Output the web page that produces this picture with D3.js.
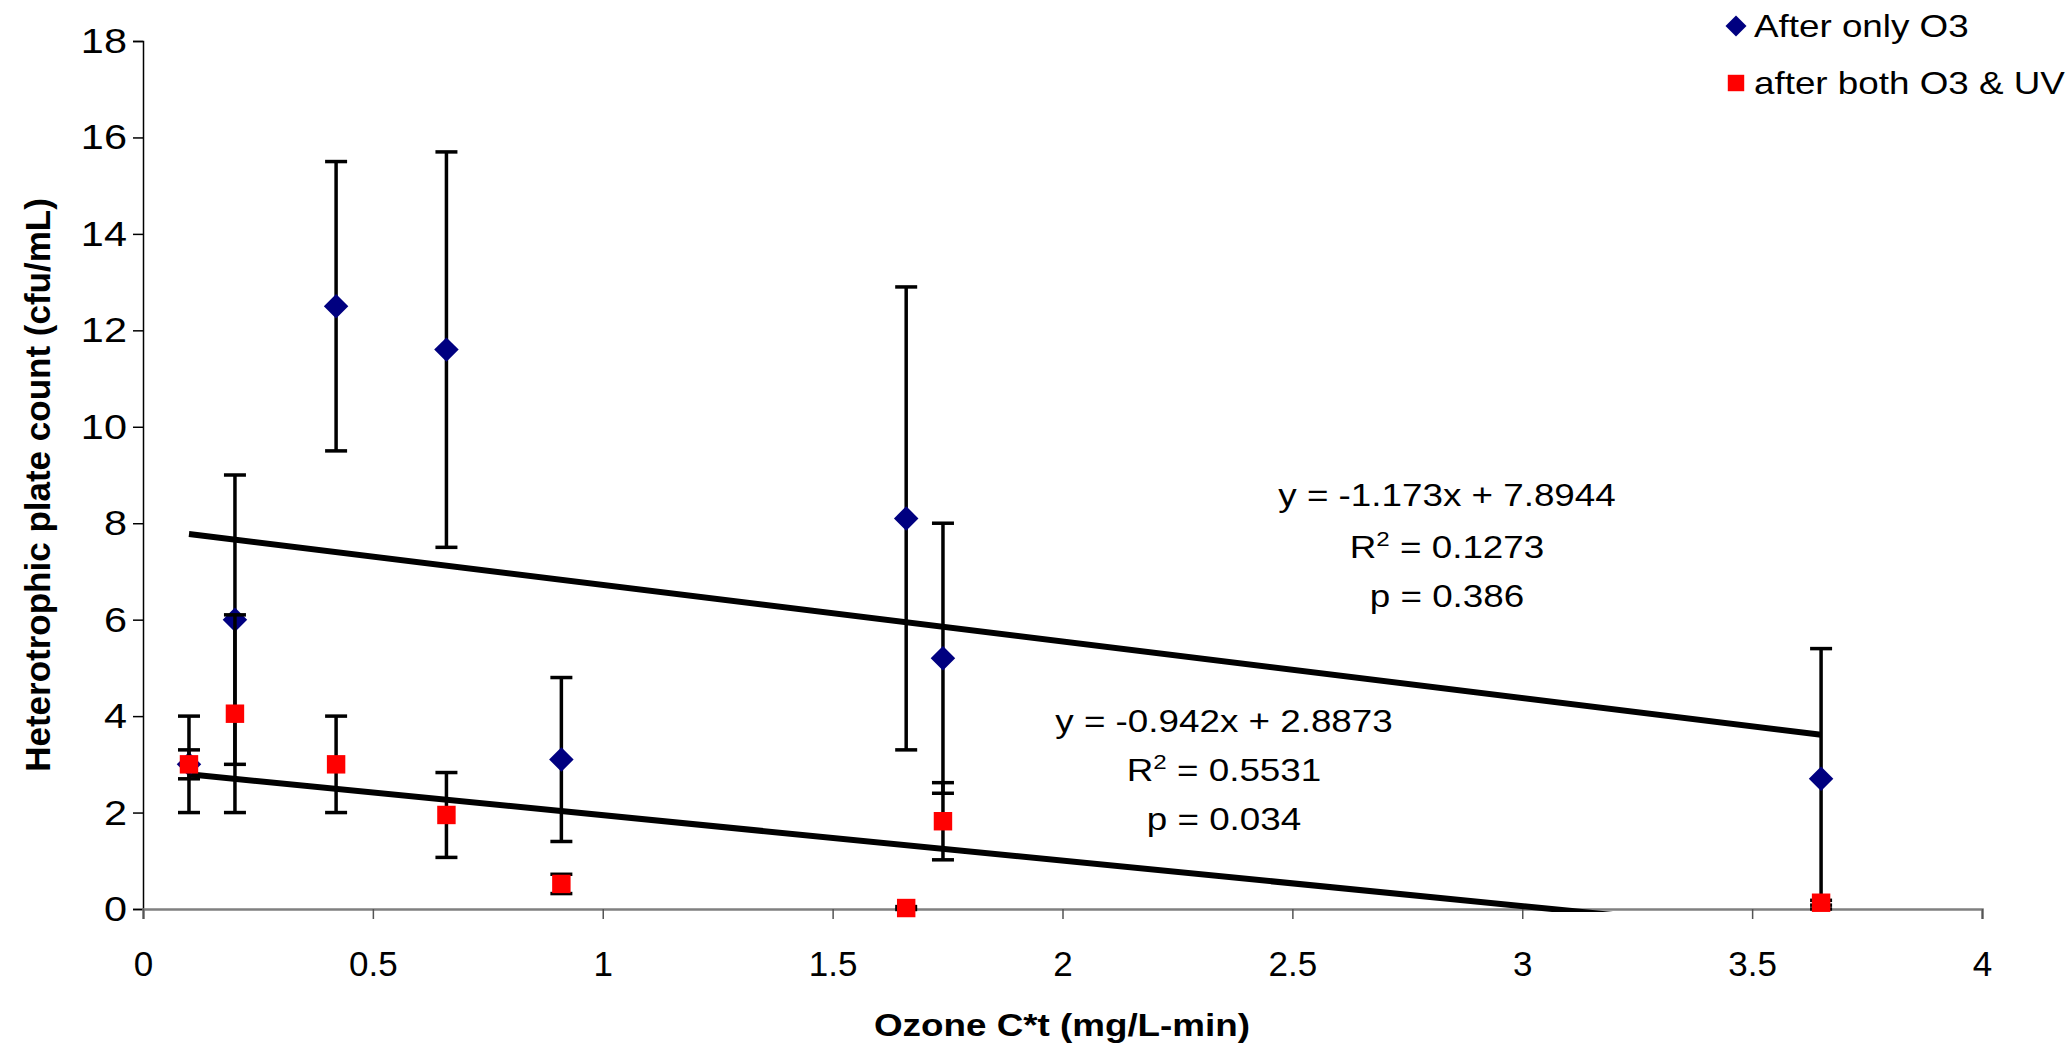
<!DOCTYPE html>
<html>
<head>
<meta charset="utf-8">
<script src="https://cdn.jsdelivr.net/npm/d3@7"></script>
<style>
  html, body { margin: 0; padding: 0; background: #fff; }
  svg { display: block; font-family: "Liberation Sans", Arial, sans-serif; }
</style>
</head>
<body>
<div id="chart"></div>
<script>
/* data */
const ozoneCt = [0.1, 0.2, 0.42, 0.66, 0.91, 1.66, 1.74, 3.65];
const onlyO3 = [3.0, 6.0, 12.5, 11.6, 3.1, 8.1, 5.2, 2.7];
const onlyO3Err = [0.3, 3.0, 3.0, 4.1, 1.7, 4.8, 2.8, 2.7];
const bothO3UV = [3.0, 4.05, 3.0, 1.95, 0.52, 0.02, 1.82, 0.13];
const bothO3UVErr = [1.0, 2.05, 1.0, 0.88, 0.2, 0.03, 0.8, 0.05];
const seriesNames = ["After only O3", "after both O3 & UV"];
const xTicks = [0, 0.5, 1, 1.5, 2, 2.5, 3, 3.5, 4];
const yTicks = [0, 2, 4, 6, 8, 10, 12, 14, 16, 18];
/* trend lines: slope, intercept and the labels next to them */
const trendSlope = [-1.173, -0.942];
const trendIntercept = [7.8944, 2.8873];
const trendEq = ["y = -1.173x + 7.8944", "y = -0.942x + 2.8873"];
const trendR2 = ["0.1273", "0.5531"];
const trendP = ["p = 0.386", "p = 0.034"];

/* svg setup */
const width = 2072;
const height = 1047;
const plot = { left: 143, right: 1982, top: 41, bottom: 909 };
const textStretch = 1.15;

const svg = d3
  .select("#chart")
  .append("svg")
  .attr("width", width)
  .attr("height", height);

const x = d3.scaleLinear().domain([0, 4]).range([plot.left, plot.right]);
const y = d3.scaleLinear().domain([0, 18]).range([plot.bottom, plot.top]);

/*
 * Axes
 */
const yAxisG = svg
  .append("g")
  .attr("transform", `translate(${plot.left},0)`)
  .call(d3.axisLeft(y).tickValues(yTicks).tickSize(10).tickPadding(4).tickFormat(d3.format("")));
yAxisG.attr("font-size", null).attr("font-family", null);
yAxisG.select(".domain").attr("stroke", "#000").attr("stroke-width", 1.5);
yAxisG.selectAll("line").attr("stroke", "#000").attr("stroke-width", 1.5);
yAxisG
  .selectAll("text")
  .style("font-size", "36px")
  .attr("fill", "#000")
  .attr("transform", `scale(${textStretch},1)`);

const xAxisG = svg
  .append("g")
  .attr("transform", `translate(0,${plot.bottom})`)
  .call(d3.axisBottom(x).tickValues(xTicks).tickSize(10).tickPadding(32).tickFormat(d3.format("")));
xAxisG.attr("font-size", null).attr("font-family", null);
xAxisG.select(".domain").attr("stroke", "#808080").attr("stroke-width", 2.5);
xAxisG.selectAll("line").attr("stroke", "#555").attr("stroke-width", 1.5);
xAxisG
  .selectAll("text")
  .style("font-size", "35px")
  .attr("fill", "#000");

/* axis titles */
svg
  .append("text")
  .attr("transform", `translate(38,485) rotate(-90)`)
  .attr("text-anchor", "middle")
  .attr("dy", "0.35em")
  .attr("font-size", 35)
  .attr("font-weight", "bold")
  .text("Heterotrophic plate count (cfu/mL)");

svg
  .append("text")
  .attr("transform", `translate(1062,1036) scale(${textStretch},1)`)
  .attr("text-anchor", "middle")
  .attr("font-size", 32)
  .attr("font-weight", "bold")
  .text("Ozone C*t (mg/L-min)");

/*
 * Trend lines (clipped at the plot bottom like excel does)
 */
svg
  .append("clipPath")
  .attr("id", "plot-clip")
  .append("rect")
  .attr("x", plot.left)
  .attr("y", plot.top)
  .attr("width", plot.right - plot.left)
  .attr("height", plot.bottom - plot.top + 3);

const xMin = d3.min(ozoneCt);
const xMax = d3.max(ozoneCt);
trendSlope.forEach((m, i) => {
  svg
    .append("line")
    .attr("x1", x(xMin))
    .attr("y1", y(m * xMin + trendIntercept[i]))
    .attr("x2", x(xMax))
    .attr("y2", y(m * xMax + trendIntercept[i]))
    .attr("stroke", "#000")
    .attr("stroke-width", 6)
    .attr("clip-path", "url(#plot-clip)");
});

/*
 * Error bars + markers, one group per series
 */
const series = [
  { values: onlyO3, errs: onlyO3Err, color: "#000080", shape: "diamond" },
  { values: bothO3UV, errs: bothO3UVErr, color: "#ff0000", shape: "square" },
];
const capHalf = 11;

series.forEach((s) => {
  const g = svg.append("g");
  const pts = ozoneCt.map((cx, i) => ({ cx, v: s.values[i], e: s.errs[i] }));

  g.selectAll("line.bar")
    .data(pts)
    .enter()
    .append("line")
    .attr("x1", (d) => x(d.cx))
    .attr("x2", (d) => x(d.cx))
    .attr("y1", (d) => y(d.v + d.e))
    .attr("y2", (d) => y(d.v - d.e))
    .attr("stroke", "#000")
    .attr("stroke-width", 3.5);

  // caps top and bottom
  ["top", "bottom"].forEach((side) => {
    g.selectAll(`line.cap-${side}`)
      .data(pts)
      .enter()
      .append("line")
      .attr("x1", (d) => x(d.cx) - capHalf)
      .attr("x2", (d) => x(d.cx) + capHalf)
      .attr("y1", (d) => y(side === "top" ? d.v + d.e : d.v - d.e))
      .attr("y2", (d) => y(side === "top" ? d.v + d.e : d.v - d.e))
      .attr("stroke", "#000")
      .attr("stroke-width", 3.5);
  });

  s.group = g;
  s.pts = pts;
});

series.forEach((s) => {
  const sym =
    s.shape === "diamond"
      ? d3.symbol().type(d3.symbolSquare).size(300)
      : d3.symbol().type(d3.symbolSquare).size(340);
  s.group
    .selectAll("path.marker")
    .data(s.pts)
    .enter()
    .append("path")
    .attr("d", sym)
    .attr("transform", (d) =>
      `translate(${x(d.cx)},${y(d.v)})` + (s.shape === "diamond" ? " rotate(45)" : "")
    )
    .attr("fill", s.color);
});

/*
 * Trend labels
 */
const labelPos = [
  { cx: 1447, rows: [495, 547, 596] },
  { cx: 1224, rows: [721, 770, 819] },
];
labelPos.forEach((p, i) => {
  const mk = (row) =>
    svg
      .append("text")
      .attr("transform", `translate(${p.cx},${row}) scale(${textStretch},1)`)
      .attr("text-anchor", "middle")
      .attr("dy", "0.35em")
      .attr("font-size", 32)
      .attr("fill", "#000");
  mk(p.rows[0]).text(trendEq[i]);
  const r2 = mk(p.rows[1]);
  r2.append("tspan").text("R");
  r2.append("tspan").attr("font-size", 21).attr("dy", "-0.6em").text("2");
  r2.append("tspan").attr("dy", "0.4em").text(" = " + trendR2[i]);
  mk(p.rows[2]).text(trendP[i]);
});

/*
 * Legend
 */
const legendRows = [26, 83];
seriesNames.forEach((name, i) => {
  const lg = svg.append("g").attr("transform", `translate(1736,${legendRows[i]})`);
  lg.append("path")
    .attr("d", d3.symbol().type(d3.symbolSquare).size(i === 0 ? 220 : 270))
    .attr("transform", i === 0 ? "rotate(45)" : null)
    .attr("fill", series[i].color);
  lg.append("text")
    .attr("transform", `translate(18,0) scale(${textStretch},1)`)
    .attr("dy", "0.35em")
    .attr("font-size", 32)
    .attr("fill", "#000")
    .text(name);
});
</script>
</body>
</html>
